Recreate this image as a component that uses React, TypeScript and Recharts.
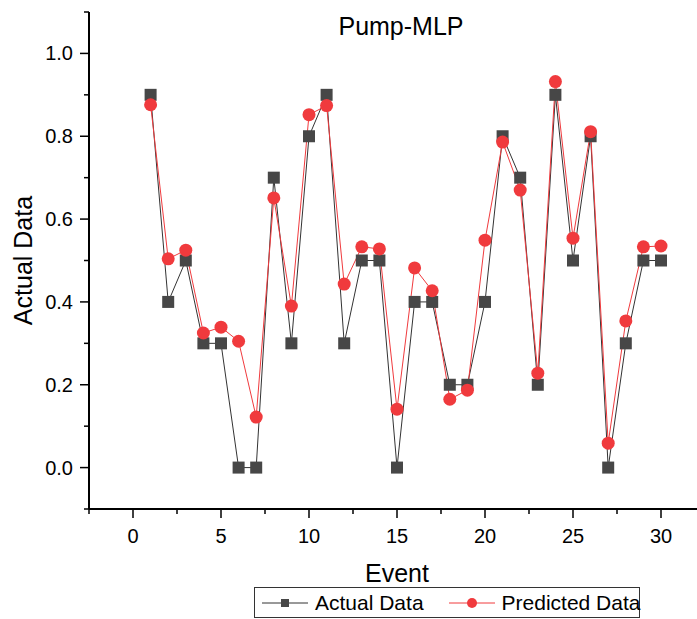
import { Customized, Legend, Line, LineChart, XAxis, YAxis } from 'recharts'

const events = [1, 2, 3, 4, 5, 6, 7, 8, 9, 10, 11, 12, 13, 14, 15, 16, 17, 18, 19, 20, 21, 22, 23, 24, 25, 26, 27, 28, 29, 30]
const actual = [0.9, 0.4, 0.5, 0.3, 0.3, 0, 0, 0.7, 0.3, 0.8, 0.9, 0.3, 0.5, 0.5, 0, 0.4, 0.4, 0.2, 0.2, 0.4, 0.8, 0.7, 0.2, 0.9, 0.5, 0.8, 0, 0.3, 0.5, 0.5]
const predicted = [0.876, 0.504, 0.525, 0.325, 0.339, 0.305, 0.122, 0.651, 0.39, 0.852, 0.874, 0.443, 0.533, 0.528, 0.141, 0.482, 0.427, 0.165, 0.187, 0.549, 0.786, 0.67, 0.228, 0.932, 0.554, 0.811, 0.059, 0.354, 0.533, 0.535]
const xTicks = [-2.5, 0, 2.5, 5, 7.5, 10, 12.5, 15, 17.5, 20, 22.5, 25, 27.5, 30, 32.5]
const yTicks = [-0.1, 0, 0.1, 0.2, 0.3, 0.4, 0.5, 0.6, 0.7, 0.8, 0.9, 1.0, 1.1]

const rows = events.map((event, i) => ({ event, actual: actual[i], predicted: predicted[i] }))

const FONT = '"Liberation Sans", Arial, sans-serif'
const GREY = '#474747'
const RED = '#f03a3d'

function XTick({ x, y, payload }: any) {
  const major = payload.value % 5 === 0
  return (
    <g>
      <line x1={x} x2={x} y1={y} y2={y + (major ? 9 : 5)} stroke="#000" strokeWidth={1.5} />
      {major && <text x={x} y={y + 34} textAnchor="middle" fontSize={20} fontFamily={FONT} fill="#000">{payload.value}</text>}
    </g>
  )
}

function YTick({ x, y, payload }: any) {
  const n = Math.round(payload.value * 10)
  const major = n % 2 === 0 && n >= 0 && n <= 10
  return (
    <g>
      <line x1={x} x2={x - (major ? 9 : 5)} y1={y} y2={y} stroke="#000" strokeWidth={1.5} />
      {major && <text x={x - 16} y={y + 7} textAnchor="end" fontSize={20} fontFamily={FONT} fill="#000">{payload.value.toFixed(1)}</text>}
    </g>
  )
}

function YTitle({ viewBox }: any) {
  const cy = viewBox.y + viewBox.height / 2
  return <text x={32} y={cy} transform={`rotate(-90, 32, ${cy})`} textAnchor="middle" fontSize={25} fontFamily={FONT} fill="#000">Actual Data</text>
}

function XTitle({ viewBox }: any) {
  return <text x={viewBox.x + viewBox.width / 2} y={viewBox.y + 73} textAnchor="middle" fontSize={25} fontFamily={FONT} fill="#000">Event</text>
}

function Title() {
  return <text x={401} y={35} textAnchor="middle" fontSize={25} fontFamily={FONT} fill="#000">Pump-MLP</text>
}

function Square({ cx, cy }: any) {
  if (cx == null || cy == null) return null
  return <rect x={cx - 6} y={cy - 6} width={12} height={12} fill={GREY} />
}

function LegendBox({ payload }: any) {
  return (
    <div style={{ border: '1px solid #333', height: 31, display: 'flex', alignItems: 'center', fontFamily: FONT, fontSize: 21, lineHeight: '21px', color: '#000', boxSizing: 'border-box', paddingLeft: 7, whiteSpace: 'nowrap' }}>
      {(payload ?? []).map((entry: any, i: number) => (
        <div key={entry.value} style={{ display: 'flex', alignItems: 'center', flexShrink: 0, marginRight: i === 0 ? 25 : 0 }}>
          <svg width={46} height={14} style={{ marginRight: 7, flexShrink: 0 }}>
            <line x1={0} x2={46} y1={7} y2={7} stroke={entry.color} strokeWidth={1} />
            {i === 0
              ? <rect x={19} y={3} width={8} height={8} fill={GREY} />
              : <circle cx={23} cy={7} r={5} fill={RED} />}
          </svg>
          <span style={{ whiteSpace: 'nowrap' }}>{entry.value}</span>
        </div>
      ))}
    </div>
  )
}

export default function App() {
  return (
    <div style={{ position: 'absolute', left: 0, top: 0, width: 697, height: 619, overflow: 'hidden', background: '#fff' }}>
      <LineChart width={706} height={619} data={rows} margin={{ top: 12, right: 1, left: 0, bottom: 0 }}>
        <XAxis dataKey="event" type="number" domain={[-2.5, 32.5]} ticks={xTicks} interval={0} height={110}
          axisLine={{ stroke: '#000', strokeWidth: 2 }} tickLine={false} tickSize={0} tickMargin={0} tick={<XTick />} label={<XTitle />} />
        <YAxis type="number" domain={[-0.1, 1.1]} ticks={yTicks} interval={0} width={89}
          axisLine={{ stroke: '#000', strokeWidth: 2 }} tickLine={false} tickSize={0} tickMargin={0} tick={<YTick />} label={<YTitle />} />
        <Legend layout="horizontal" verticalAlign="middle" align="center" content={<LegendBox />}
          wrapperStyle={{ left: 254, top: 587, width: 386, height: 31 }} />
        <Line name="Actual Data" type="linear" dataKey="actual" stroke="#333333" strokeWidth={1} dot={<Square />} activeDot={false} isAnimationActive={false} />
        <Line name="Predicted Data" type="linear" dataKey="predicted" stroke={RED} strokeWidth={1} dot={{ r: 6.5, fill: RED, stroke: 'none' }} activeDot={false} isAnimationActive={false} />
        <Customized component={<Title />} />
      </LineChart>
    </div>
  )
}
